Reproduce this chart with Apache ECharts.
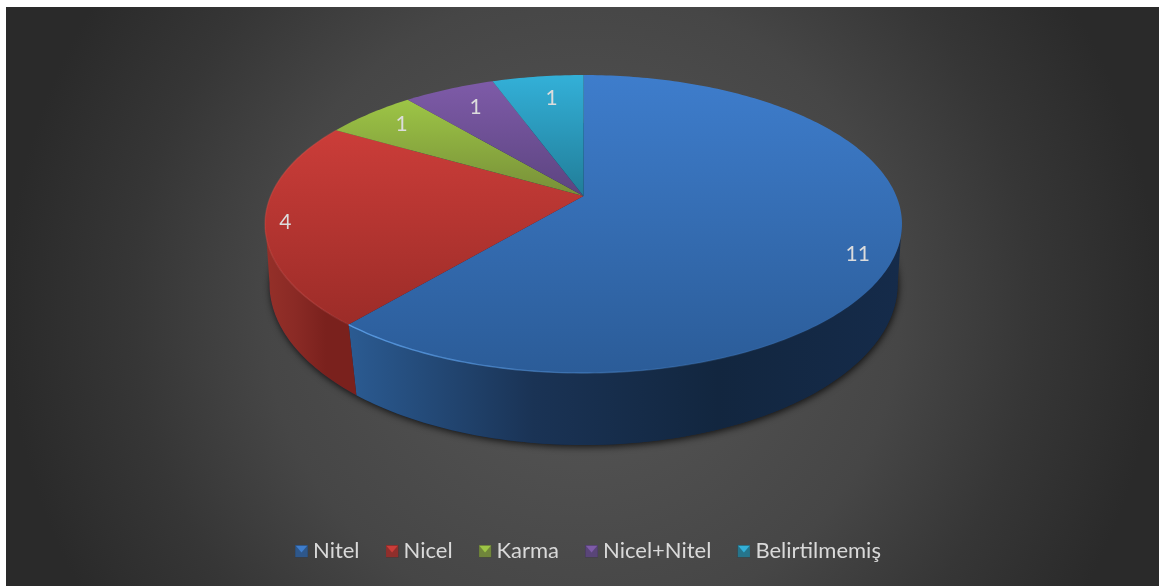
<!DOCTYPE html>
<html>
<head>
<meta charset="utf-8">
<script src="https://cdn.jsdelivr.net/npm/echarts@6/dist/echarts.min.js"></script>
<style>
  html, body { margin: 0; padding: 0; background: #fff; width: 100%; height: 100%; overflow: hidden; }
  #chart {
    position: absolute; left: 6px; top: 7px; width: 1153px; height: 579px;
    background: radial-gradient(circle 600px at 50% 52%, #585858 0%, #464646 53%, #363636 75%, #2a2a2a 96%);
  }
</style>
</head>
<body>
<div id="chart"></div>
<script>
// Survey method counts
const categories = ['Nitel', 'Nicel', 'Karma', 'Nicel+Nitel', 'Belirtilmemiş'];
const values = [11, 4, 1, 1, 1];

// Top face gradient of each slice: upper colour, lower colour
const topUpper = ['#3e7dcc', '#cb3d39', '#9dc546', '#7e5ba8', '#33b0d8'];
const topLower = ['#2b5c98', '#9c2c28', '#778f38', '#5c4480', '#217d98'];
// Side wall stops, left to right
const wallStops = [
  ['#2b5b92', '#1a3355', '#12263f', '#152b4a'],
  ['#953029', '#8a2a25', '#7a211d', '#7a211d'],
  ['#6f8a33', '#6f8a33', '#6f8a33', '#6f8a33'],
  ['#553f78', '#553f78', '#553f78', '#553f78'],
  ['#1f7590', '#1f7590', '#1f7590', '#1f7590']
];
const rimColors = ['rgba(96,165,240,', 'rgba(226,84,74,', null, null, null];

// Label placement on the top face, as an angle nudge in degrees and a radius fraction
const labelNudge = [5, -1, 0.7, 0.8, 1.5];
const labelRadius = [0.898, 0.938, 0.847, 0.80, 0.79];

// Perspective projections of the unit circle for the top face and for the base
const CX = 577.5;
const TOP_DISC = { y0: 189, halfWidth: 312.8, halfDepth: 143.7, tilt: 0.188 };
const BASE_DISC = { y0: 251.2, halfWidth: 310, halfDepth: 156.9, tilt: 0.16 };
const WALL_FROM = 100, WALL_TO = 261;

const total = values.reduce((a, b) => a + b, 0);
const DEG = Math.PI / 180;

function project(deg, r, disc) {
  const X = r * Math.sin(deg * DEG);
  const Y = -r * Math.cos(deg * DEG);
  const d = 1 - disc.tilt * Y;
  return [CX + disc.halfWidth * X / d, disc.y0 + disc.halfDepth * Y / d];
}

function arc(from, to, disc) {
  const pts = [];
  const n = Math.max(1, Math.ceil(Math.abs(to - from)));
  for (let i = 0; i <= n; i++) pts.push(project(from + (to - from) * i / n, 1, disc));
  return pts;
}

function hGradient(x0, x1, stops) {
  return new echarts.graphic.LinearGradient(x0, 0, x1, 0,
    stops.map((c, i) => ({ offset: i / (stops.length - 1), color: c })), true);
}

function sliceRenderer(index) {
  const before = values.slice(0, index).reduce((a, b) => a + b, 0);
  return function (params, api) {
    const sweep = api.value(0) / total * 360;
    const start = before / total * 360;
    const end = start + sweep;
    const children = [];

    // Visible part of the outer wall
    const a0 = Math.max(start, WALL_FROM), a1 = Math.min(end, WALL_TO);
    if (a1 > a0) {
      const upper = arc(a0, a1, TOP_DISC);
      const lower = arc(a1, a0, BASE_DISC);
      const xs = upper.concat(lower).map(p => p[0]);
      children.push({
        type: 'polygon', z2: 2,
        shape: { points: upper.concat(lower) },
        style: { fill: hGradient(Math.min(...xs), Math.max(...xs), wallStops[index]) }
      });
    }

    // Top face
    children.push({
      type: 'polygon', z2: 3,
      shape: { points: [project(0, 0, TOP_DISC)].concat(arc(start, end, TOP_DISC)) },
      style: {
        fill: new echarts.graphic.LinearGradient(0, 0, 0, 1, [
          { offset: 0, color: topUpper[index] },
          { offset: 1, color: topLower[index] }
        ])
      }
    });

    // Bevel highlight along the front rim
    if (rimColors[index]) {
      const rim = index === 0 ? arc(Math.max(start, 125), end, TOP_DISC) : arc(start, end, TOP_DISC);
      const xs = rim.map(p => p[0]);
      const c = rimColors[index];
      const stops = index === 0
        ? [c + '0.85)', c + '0.3)', c + '0)']
        : [c + '0.15)', c + '0.4)', c + '0.3)'];
      children.push({
        type: 'polyline', z2: 4,
        shape: { points: rim },
        style: {
          fill: 'none', lineWidth: 1.4,
          stroke: index === 0
            ? hGradient(Math.min(...xs), Math.max(...xs), stops)
            : hGradient(Math.max(...xs), Math.min(...xs), stops)
        }
      });
    }

    // Value label
    const lp = project(start + sweep / 2 + labelNudge[index], labelRadius[index], TOP_DISC);
    children.push({
      type: 'text', z2: 6,
      style: {
        text: String(api.value(0)), x: lp[0], y: lp[1],
        fill: '#dcdcdc', font: '21px Lato', align: 'center', verticalAlign: 'middle'
      }
    });

    return { type: 'group', children };
  };
}

function baseRenderer() {
  return {
    type: 'polygon', z2: 1,
    shape: { points: arc(0, 360, BASE_DISC) },
    style: {
      fill: '#14294a', shadowColor: 'rgba(0,0,0,0.75)',
      shadowBlur: 7, shadowOffsetX: 1, shadowOffsetY: 2
    }
  };
}

// Bevelled square for the legend keys
function legendIcon(i) {
  const svg = '<svg xmlns="http://www.w3.org/2000/svg" width="13" height="13">' +
    '<rect width="13" height="13" fill="' + topLower[i] + '" opacity="0.85"/>' +
    '<rect width="13" height="13" fill="none" stroke="#222" stroke-opacity="0.35"/>' +
    '<polygon points="1,1.5 12,1.5 6.5,8" fill="' + topUpper[i] + '"/>' +
    '</svg>';
  return 'image://data:image/svg+xml;charset=utf-8,' + encodeURIComponent(svg);
}

const chart = echarts.init(document.getElementById('chart'), null, { renderer: 'canvas' });

chart.setOption({
  animation: false,
  backgroundColor: 'transparent',
  legend: {
    left: 284,
    top: 528,
    itemWidth: 13,
    itemHeight: 13,
    itemGap: 26,
    selectedMode: false,
    textStyle: { color: '#d9d9d9', fontFamily: 'Lato', fontSize: 22 },
    data: categories.map((name, i) => ({ name, icon: legendIcon(i) }))
  },
  series: [
    { type: 'custom', name: 'base', coordinateSystem: 'none', silent: true, data: [[total]], renderItem: baseRenderer }
  ].concat(categories.map((name, i) => ({
    type: 'custom',
    name,
    coordinateSystem: 'none',
    silent: true,
    itemStyle: { color: topUpper[i] },
    data: [[values[i]]],
    renderItem: sliceRenderer(i)
  })))
});
</script>
</body>
</html>
